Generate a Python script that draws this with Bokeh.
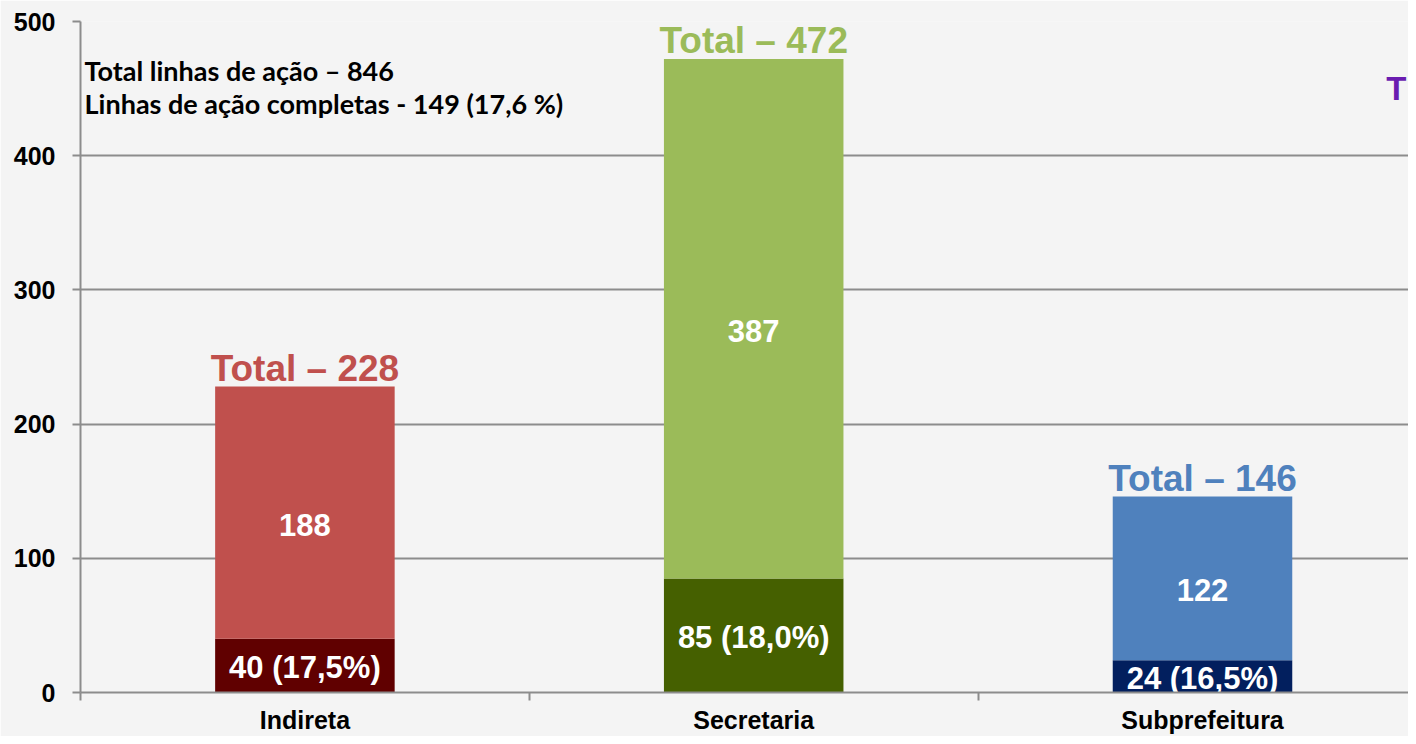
from bokeh.plotting import figure
from bokeh.models import ColumnDataSource, Range1d, FixedTicker, Label
from bokeh.core.properties import value
from bokeh.embed import file_html
from bokeh.resources import INLINE

# ---- data ----
categories = ["Indireta", "Secretaria", "Subprefeitura"]
completas = [40, 85, 24]
restantes = [188, 387, 122]
totais = [228, 472, 146]
completas_labels = ["40 (17,5%)", "85 (18,0%)", "24 (16,5%)"]
restantes_labels = ["188", "387", "122"]
total_labels = ["Total – 228", "Total – 472", "Total – 146"]
y_ticks = [0, 100, 200, 300, 400, 500]
summary_lines = ["Total linhas de ação – 846", "Linhas de ação completas - 149 (17,6 %)"]
summary_y = [463.5, 439]
side_note = "T"
side_note_y = 450

# ---- styles ----
light_colors = ["#C0504D", "#9BBB59", "#4F81BD"]
dark_colors = ["#600000", "#456000", "#021F5E"]
BG = "#F4F4F4"
GRID = "#8C8C8C"
FONT = value("Liberation Sans")
X_END = 2.959  # visible part of the category axis (slide is cut at the right)

x = [i + 0.5 for i in range(len(categories))]
src = ColumnDataSource(dict(
    x=x,
    completas=completas,
    totais=[c + r for c, r in zip(completas, restantes)],
    mid_dark=[c / 2 for c in completas],
    mid_light=[c + r / 2 for c, r in zip(completas, restantes)],
    dark=dark_colors,
    light=light_colors,
    lab_dark=completas_labels,
    lab_light=restantes_labels,
    lab_total=total_labels,
))

p = figure(width=1408, height=736, output_backend="svg", toolbar_location=None,
           x_range=Range1d(0, X_END), y_range=Range1d(0, 500),
           min_border_left=80, min_border_right=0, min_border_top=21, min_border_bottom=36,
           background_fill_color=BG, border_fill_color=BG, outline_line_color=None)

# bars
p.vbar(x="x", bottom=0, top="completas", width=0.4, fill_color="dark", line_color=None, source=src)
p.vbar(x="x", bottom="completas", top="totais", width=0.4, fill_color="light", line_color=None, source=src)

# labels inside bars
p.text(x="x", y="mid_dark", text="lab_dark", source=src, text_align="center", text_baseline="middle",
       y_offset=2, text_color="white", text_font=FONT, text_font_style="bold", text_font_size="31px")
p.text(x="x", y="mid_light", text="lab_light", source=src, text_align="center", text_baseline="middle",
       y_offset=12, text_color="white", text_font=FONT, text_font_style="bold", text_font_size="31px")
# totals above bars
p.text(x="x", y="totais", text="lab_total", source=src, text_align="center", text_baseline="bottom",
       y_offset=2, text_color="light", text_font=FONT, text_font_style="bold", text_font_size="37px")

# side note at the right edge
p.text(x=[X_END], y=[side_note_y], text=[side_note], text_align="right", x_offset=-2,
       text_baseline="middle", text_color="#6A1CB0", text_font=FONT, text_font_style="bold",
       text_font_size="33px")

# summary text box
for line, yy in zip(summary_lines, summary_y):
    p.add_layout(Label(x=0.009, y=yy, text=line, text_align="left", text_baseline="middle",
                       text_font="Lato", text_font_style="bold", text_font_size="27px",
                       text_color="black"))

# axes
p.xaxis.ticker = FixedTicker(ticks=x, minor_ticks=list(range(len(categories) + 1)))
p.xaxis.major_label_overrides = {xx: c for xx, c in zip(x, categories)}
p.xaxis.major_tick_out = 0
p.xaxis.major_tick_in = 0
p.xaxis.minor_tick_out = 8
p.xaxis.minor_tick_in = 0
p.xaxis.minor_tick_line_color = GRID
p.xaxis.minor_tick_line_width = 2
p.xaxis.axis_line_color = GRID
p.xaxis.axis_line_width = 2
p.xaxis.major_label_text_font = "Liberation Sans"
p.xaxis.major_label_text_font_style = "bold"
p.xaxis.major_label_text_font_size = "25px"
p.xaxis.major_label_text_color = "black"
p.xaxis.major_label_standoff = 5

p.yaxis.ticker = FixedTicker(ticks=y_ticks)
p.yaxis.major_tick_out = 8
p.yaxis.major_tick_in = 0
p.yaxis.minor_tick_line_color = None
p.yaxis.major_tick_line_color = GRID
p.yaxis.major_tick_line_width = 2
p.yaxis.axis_line_color = GRID
p.yaxis.axis_line_width = 2
p.yaxis.major_label_text_font = "Liberation Sans"
p.yaxis.major_label_text_font_style = "bold"
p.yaxis.major_label_text_font_size = "25px"
p.yaxis.major_label_text_color = "black"
p.yaxis.major_label_standoff = 17

p.xgrid.grid_line_color = None
p.ygrid.ticker = FixedTicker(ticks=y_ticks)
p.ygrid.grid_line_color = GRID
p.ygrid.grid_line_width = 2

open("out.html", "w").write(file_html(p, INLINE))
